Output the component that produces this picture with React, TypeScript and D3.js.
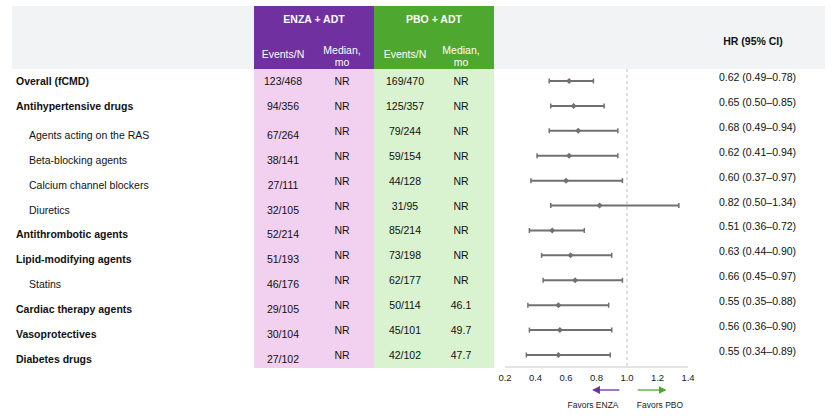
import * as d3 from "d3";

// Subgroups by baseline concomitant medication
const groups = [
  "Overall (fCMD)",
  "Antihypertensive drugs",
  "Agents acting on the RAS",
  "Beta-blocking agents",
  "Calcium channel blockers",
  "Diuretics",
  "Antithrombotic agents",
  "Lipid-modifying agents",
  "Statins",
  "Cardiac therapy agents",
  "Vasoprotectives",
  "Diabetes drugs",
];
const subgroup = [false, false, true, true, true, true, false, false, true, false, false, false];

const enzaEvents = ["123/468", "94/356", "67/264", "38/141", "27/111", "32/105", "52/214", "51/193", "46/176", "29/105", "30/104", "27/102"];
const enzaMedian = ["NR", "NR", "NR", "NR", "NR", "NR", "NR", "NR", "NR", "NR", "NR", "NR"];
const pboEvents = ["169/470", "125/357", "79/244", "59/154", "44/128", "31/95", "85/214", "73/198", "62/177", "50/114", "45/101", "42/102"];
const pboMedian = ["NR", "NR", "NR", "NR", "NR", "NR", "NR", "NR", "NR", "46.1", "49.7", "47.7"];

const hr = [0.62, 0.65, 0.68, 0.62, 0.6, 0.82, 0.51, 0.63, 0.66, 0.55, 0.56, 0.55];
const ciLow = [0.49, 0.5, 0.49, 0.41, 0.37, 0.5, 0.36, 0.44, 0.45, 0.35, 0.36, 0.34];
const ciHigh = [0.78, 0.85, 0.94, 0.94, 0.97, 1.34, 0.72, 0.9, 0.97, 0.88, 0.9, 0.89];

const axisTicks = [0.2, 0.4, 0.6, 0.8, 1.0, 1.2, 1.4];

const W = 833;
const H = 418;
const FONT = "'Liberation Sans', Arial, sans-serif";
const PURPLE = "#7030a0";
const GREEN = "#4ea72e";
const PINK = "#f2d0ef";
const MINT = "#d9f2d0";
const GREY = "#707070";

const HEAD = { top: 6, bottom: 69 };
const TABLE_BOTTOM = 368;
const COL = { enza: [254, 374], pbo: [374, 494] };

export default function App() {
  const x = d3.scaleLinear().domain([0.2, 1.4]).range([505, 688]);
  const y = d3.scaleLinear().domain([0, groups.length - 1]).range([81, 355]);
  const fmt = d3.format(".2f");

  const colX = {
    enzaN: 283,
    enzaMed: 342,
    pboN: 405,
    pboMed: 461,
  };

  return (
    <svg
      width={W}
      height={H}
      style={{ position: "absolute", left: 0, top: 0, background: "#fff" }}
      fontFamily={FONT}
    >
      {/* header band */}
      <rect x={12} y={HEAD.top} width={813} height={HEAD.bottom - HEAD.top} fill="#f2f3f5" />
      <rect x={COL.enza[0]} y={HEAD.top} width={COL.enza[1] - COL.enza[0]} height={HEAD.bottom - HEAD.top} fill={PURPLE} />
      <rect x={COL.pbo[0]} y={HEAD.top} width={COL.pbo[1] - COL.pbo[0]} height={HEAD.bottom - HEAD.top} fill={GREEN} />
      <rect x={COL.enza[0]} y={HEAD.bottom} width={COL.enza[1] - COL.enza[0]} height={TABLE_BOTTOM - HEAD.bottom} fill={PINK} />
      <rect x={COL.pbo[0]} y={HEAD.bottom} width={COL.pbo[1] - COL.pbo[0]} height={TABLE_BOTTOM - HEAD.bottom} fill={MINT} />

      <g fill="#fff" fontSize={10.5} textAnchor="middle">
        <text x={314} y={23} fontWeight="bold">ENZA + ADT</text>
        <text x={434} y={23} fontWeight="bold">PBO + ADT</text>
        <text x={colX.enzaN} y={58}>Events/N</text>
        <text x={colX.enzaMed} y={54}>Median,</text>
        <text x={colX.enzaMed} y={65.5}>mo</text>
        <text x={colX.pboN} y={58}>Events/N</text>
        <text x={colX.pboMed} y={54}>Median,</text>
        <text x={colX.pboMed} y={65.5}>mo</text>
      </g>
      <text x={753} y={45} fontSize={10.5} fontWeight="bold" textAnchor="middle" fill="#111">
        HR (95% CI)
      </text>

      {/* table rows */}
      {groups.map((g, i) => {
        const cy = y(i);
        const shift = i >= 2 ? 4 : 0;
        return (
          <g key={g} fontSize={10.5} fill="#111">
            <text
              x={subgroup[i] ? 29 : 16}
              y={cy + shift + 4}
              fontWeight={subgroup[i] ? "normal" : "bold"}
            >
              {g}
            </text>
            <g textAnchor="middle">
              <text x={colX.enzaN} y={cy + shift + 4}>{enzaEvents[i]}</text>
              <text x={colX.enzaMed} y={cy + 4}>{enzaMedian[i]}</text>
              <text x={colX.pboN} y={cy + 4}>{pboEvents[i]}</text>
              <text x={colX.pboMed} y={cy + 4}>{pboMedian[i]}</text>
            </g>
            <text x={719} y={cy}>
              {`${fmt(hr[i])} (${fmt(ciLow[i])}–${fmt(ciHigh[i])})`}
            </text>
          </g>
        );
      })}

      {/* reference line at HR = 1 */}
      <line x1={x(1)} x2={x(1)} y1={HEAD.bottom} y2={TABLE_BOTTOM} stroke="#bdbdbd" strokeDasharray="3,3" />

      {/* confidence intervals */}
      {groups.map((g, i) => {
        const cy = y(i);
        const d = 3;
        return (
          <g key={`ci-${g}`} stroke={GREY} fill={GREY}>
            <line x1={x(ciLow[i])} x2={x(ciHigh[i])} y1={cy} y2={cy} strokeWidth={2} />
            <line x1={x(ciLow[i])} x2={x(ciLow[i])} y1={cy - 2.5} y2={cy + 2.5} strokeWidth={1.5} />
            <line x1={x(ciHigh[i])} x2={x(ciHigh[i])} y1={cy - 2.5} y2={cy + 2.5} strokeWidth={1.5} />
            <path
              d={`M${x(hr[i])},${cy - d}L${x(hr[i]) + d},${cy}L${x(hr[i])},${cy + d}L${x(hr[i]) - d},${cy}Z`}
              stroke="none"
            />
          </g>
        );
      })}

      {/* x axis */}
      <line x1={x(0.2)} x2={x(1.4)} y1={TABLE_BOTTOM - 1} y2={TABLE_BOTTOM - 1} stroke="#c8c8c8" strokeWidth={1} />
      <g fontSize={9.5} fill="#222" textAnchor="middle">
        {axisTicks.map((t) => (
          <text key={t} x={x(t)} y={381}>
            {d3.format(".1f")(t)}
          </text>
        ))}
      </g>

      {/* direction arrows */}
      <defs>
        <marker id="arrP" viewBox="0 0 6 6" refX="5" refY="3" markerWidth="6" markerHeight="6" orient="auto">
          <path d="M0,0L6,3L0,6Z" fill={PURPLE} />
        </marker>
        <marker id="arrG" viewBox="0 0 6 6" refX="5" refY="3" markerWidth="6" markerHeight="6" orient="auto">
          <path d="M0,0L6,3L0,6Z" fill={GREEN} />
        </marker>
      </defs>
      <line x1={x(0.95)} x2={x(0.78)} y1={390} y2={390} stroke={PURPLE} strokeWidth={1.3} markerEnd="url(#arrP)" />
      <line x1={x(1.07)} x2={x(1.25)} y1={390} y2={390} stroke={GREEN} strokeWidth={1.3} markerEnd="url(#arrG)" />
      <g fontSize={8.5} fill="#222" textAnchor="middle">
        <text x={593} y={408}>Favors ENZA</text>
        <text x={660} y={408}>Favors PBO</text>
      </g>
    </svg>
  );
}
